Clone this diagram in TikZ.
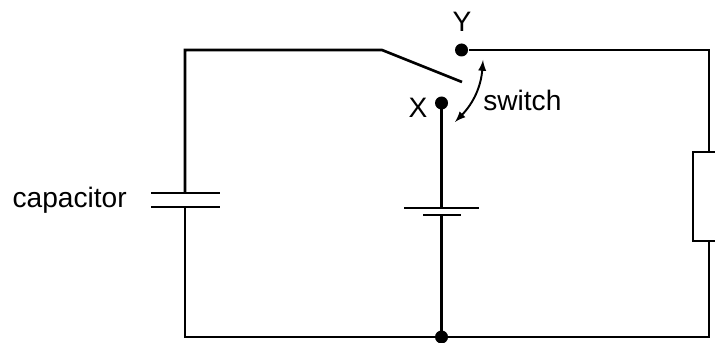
\documentclass[tikz,border=0pt]{standalone}
\usepackage{fontspec}
\setmainfont{Liberation Sans}
\begin{document}
\begin{tikzpicture}[line width=1.5pt,
  dot/.style={circle, fill=black, inner sep=0pt, minimum size=0.26cm},
  lbl/.style={font=\fontsize{16}{19}\selectfont, inner sep=0pt}]

\useasboundingbox (0,0) rectangle (14.3,6.84);

% corners of the loop
\coordinate (tl) at (3.70,5.84);
\coordinate (bl) at (3.70,0.10);
\coordinate (tr) at (14.18,5.84);
\coordinate (br) at (14.18,0.10);
\coordinate (pivot) at (7.64,5.84);
\coordinate (blade) at (9.24,5.20);

% contacts
\node [dot] (Y) at (9.23,5.84) {};
\node [dot] (X) at (8.83,4.78) {};
\node [dot] (B) at (8.83,0.10) {};

% capacitor plates
\coordinate (c1l) at (3.02,2.98);
\coordinate (c1r) at (4.40,2.98);
\coordinate (c2l) at (3.02,2.70);
\coordinate (c2r) at (4.40,2.70);
\coordinate (c1) at (3.70,2.98);
\coordinate (c2) at (3.70,2.70);

% cell plates
\coordinate (b1l) at (8.08,2.68);
\coordinate (b1r) at (9.58,2.68);
\coordinate (b2l) at (8.46,2.54);
\coordinate (b2r) at (9.22,2.54);
\coordinate (b1) at (8.83,2.68);
\coordinate (b2) at (8.83,2.54);

% resistor
\coordinate (r1) at (14.18,3.80);
\coordinate (r2) at (14.18,2.02);

% wires
\draw (c1) -- (tl) -- (pivot) -- (blade);
\draw (Y) -- (tr) -- (r1);
\draw (r2) -- (br) -- (bl) -- (c2);
\draw (X.center) -- (b1);
\draw (b2) -- (B.center);

\draw (c1l) -- (c1r);
\draw (c2l) -- (c2r);
\draw (b1l) -- (b1r);
\draw (b2l) -- (b2r);
\draw (13.86,2.02) rectangle (14.50,3.80);

% switch arrow
\coordinate (a1) at (9.10,4.40);
\coordinate (a2) at (9.66,5.64);
\draw [<->, >=latex, line width=1.1pt] (a1) to [bend right=20] (a2);

\node [lbl] (Ylab) at (9.24,6.40) {Y};
\node [lbl] (Xlab) at (8.36,4.68) {X};
\node [lbl, anchor=west] (sw) at (9.64,4.84) {switch};
\node [lbl, anchor=east] (cap) at (2.56,2.84) {capacitor};

\end{tikzpicture}
\end{document}
